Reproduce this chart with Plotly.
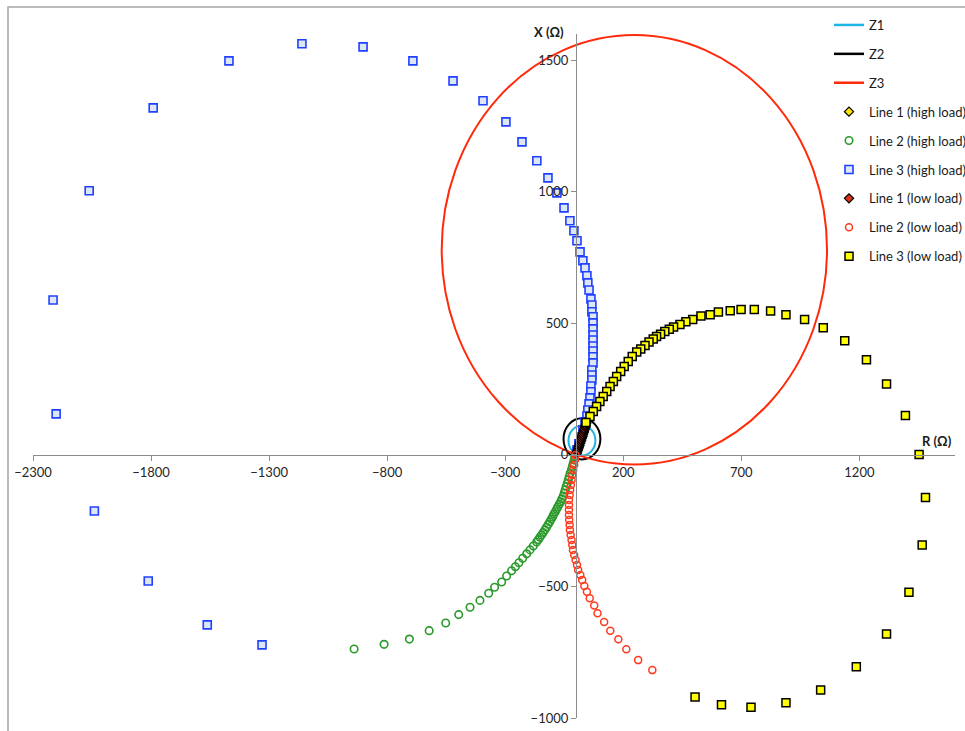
import plotly.graph_objects as go

# ---- Relay characteristics (mho circles): centre R, centre X, radius (ohm) ----
zone_names = ["Z1", "Z2", "Z3"]
zone_centre_r = [25, 25, 247]
zone_centre_x = [55, 61, 780]
zone_radius = [57, 78, 816]
zone_colors = ["#1eb4e6", "#000000", "#ff2a0a"]

# ---- Apparent impedance trajectories (R, X in ohm) ----
line1_high_r = [2, 4, 7, 9, 12, 14, 17, 19, 22, 24, 27, 29, 32, 34, 37, 39]
line1_high_x = [5, 11, 18, 24, 31, 37, 44, 50, 57, 64, 70, 77, 84, 91, 98, 105]

line2_high_r = [-940, -813, -706, -622, -552, -497, -449, -407, -370, -345, -315,
                -294, -273, -257, -242, -226, -209, -195, -181, -167, -160, -153,
                -146, -139, -132, -125, -118, -111, -105, -99, -94, -88, -82, -77,
                -71, -65, -60, -54, -50, -46, -42, -37, -33, -29, -25, -20, -16,
                -12, -8, -5]
line2_high_x = [-738, -720, -700, -668, -639, -607, -579, -553, -526, -503, -483,
                -460, -440, -425, -410, -393, -376, -361, -346, -331, -322, -313,
                -304, -295, -285, -275, -264, -254, -244, -235, -225, -216, -206,
                -197, -187, -178, -167, -156, -145, -133, -120, -108, -95, -83,
                -70, -57, -44, -32, -19, -7]

line3_high_r = [-1330, -1562, -1812, -2040, -2202, -2215, -2062, -1791, -1470,
                -1161, -902, -691, -521, -394, -297, -229, -166, -119, -81, -51,
                -26, -9, 4, 17, 29, 38, 46, 50, 55, 63, 67, 67, 72, 72, 72, 72,
                72, 72, 72, 72, 72, 67, 67, 67, 63, 63, 59, 55, 50, 46, 38, 29,
                21, 12, 4]
line3_high_x = [-722, -646, -479, -213, 156, 589, 1004, 1319, 1498, 1563, 1551,
                1498, 1422, 1346, 1266, 1190, 1118, 1053, 996, 939, 890, 852, 814,
                772, 738, 711, 681, 654, 627, 593, 570, 544, 525, 502, 479, 456,
                437, 414, 395, 373, 350, 323, 304, 285, 262, 240, 217, 194, 171,
                148, 126, 95, 68, 42, 19]

line1_low_r = [3, 5, 8, 10, 13, 15, 18, 20, 23, 25, 28, 30, 33, 35, 38, 40, 43, 45]
line1_low_x = [8, 15, 22, 29, 36, 43, 50, 57, 64, 71, 78, 85, 92, 99, 106, 113, 120, 127]

line2_low_r = [323, 263, 213, 179, 145, 119, 91, 77, 58, 46, 35, 26, 18, 9, 4,
               -2, -8, -13, -16, -19, -23, -26, -27, -29, -30, -30, -30, -30,
               -27, -25, -22, -19, -16, -12, -8, -5, -2]
line2_low_x = [-818, -780, -739, -701, -668, -635, -602, -572, -545, -520, -498,
               -475, -456, -437, -418, -399, -380, -361, -342, -323, -304, -285,
               -266, -247, -228, -209, -190, -171, -152, -133, -114, -95, -76,
               -57, -38, -19, 0]

line3_low_r = [504, 616, 741, 889, 1036, 1187, 1315, 1410, 1466, 1480, 1453,
               1395, 1315, 1230, 1138, 1047, 968, 889, 824, 755, 699, 653, 603,
               568, 529, 494, 465, 440, 413, 395, 376, 358, 341, 327, 309, 292,
               274, 257, 238, 221, 204, 189, 172, 158, 144, 130, 115, 101, 87,
               73, 59, 42]
line3_low_x = [-920, -950, -959, -942, -894, -805, -681, -522, -342, -162, 2,
               150, 270, 362, 434, 483, 515, 533, 547, 553, 553, 548, 543, 533,
               528, 515, 506, 496, 486, 478, 469, 459, 450, 441, 429, 416, 403,
               391, 374, 355, 336, 317, 298, 279, 260, 241, 222, 203, 184, 165,
               146, 123]

# ---- Axis ticks ----
r_ticks = [-2300, -1800, -1300, -800, -300, 200, 700, 1200]
x_ticks = [-1000, -500, 0, 500, 1000, 1500]
r_range = [-2300, 1605]
x_range = [-1000, 1600]

FONT = "Lato"

fig = go.Figure()

# characteristic circles as shapes, legend entries as line traces
for name, cr, cx, rad, col in zip(zone_names, zone_centre_r, zone_centre_x,
                                  zone_radius, zone_colors):
    fig.add_shape(type="circle", xref="x", yref="y",
                  x0=cr - rad, x1=cr + rad, y0=cx - rad, y1=cx + rad,
                  line=dict(color=col, width=2), layer="below")
    fig.add_trace(go.Scatter(x=[None], y=[None], mode="lines", name=name,
                             line=dict(color=col, width=2.5),
                             legendgroup=name))


def add_markers(name, r, x, symbol, size, fill, edge, width):
    fig.add_trace(go.Scatter(
        x=r, y=x, mode="markers", name=name, legendgroup=name,
        marker=dict(symbol=symbol, size=size, color=fill,
                    line=dict(color=edge, width=width)),
        cliponaxis=False))


add_markers("Line 1 (high load)", line1_high_r, line1_high_x, "diamond", 7,
            "#ffe600", "#000000", 1.3)
add_markers("Line 2 (high load)", line2_high_r, line2_high_x, "circle-open", 7.5,
            "#2a9a2a", "#2a9a2a", 1.6)
add_markers("Line 3 (high load)", line3_high_r, line3_high_x, "square", 8,
            "#dde6f4", "#1f40ff", 1.6)
add_markers("Line 1 (low load)", line1_low_r, line1_low_x, "diamond", 7,
            "#e03218", "#000000", 1.3)
add_markers("Line 2 (low load)", line2_low_r, line2_low_x, "circle-open", 7,
            "#ff3b1f", "#ff3b1f", 1.5)
add_markers("Line 3 (low load)", line3_low_r, line3_low_x, "square", 8,
            "#ffff00", "#000000", 1.5)

W, H = 965, 731
ml, mr, mt, mb = 33, 10, 34, 13
pw, ph = W - ml - mr, H - mt - mb

x_zero = (0 - r_range[0]) / (r_range[1] - r_range[0])
y_zero = (0 - x_range[0]) / (x_range[1] - x_range[0])

axis_common = dict(showgrid=False, zeroline=False, showline=True,
                   linecolor="#8c8c8c", linewidth=1.3, ticks="outside",
                   ticklen=5, tickcolor="#8c8c8c", tickwidth=1.2,
                   tickfont=dict(family=FONT, size=13, color="#262626"),
                   anchor="free", automargin=False)

fig.update_layout(
    width=W, height=H,
    margin=dict(l=ml, r=mr, t=mt, b=mb, pad=0, autoexpand=False),
    paper_bgcolor="white", plot_bgcolor="white",
    xaxis=dict(range=r_range, tickvals=r_ticks, position=y_zero, **axis_common),
    yaxis=dict(range=x_range, tickvals=x_ticks, position=x_zero, **axis_common),
    showlegend=True,
    legend=dict(x=(829 - ml) / pw, xanchor="left",
                y=(H - mb - 10) / ph, yanchor="top",
                bgcolor="rgba(255,255,255,0)",
                font=dict(family=FONT, size=13, color="#1a1a1a"),
                tracegroupgap=9, traceorder="grouped", itemwidth=30),
    annotations=[
        dict(text="<b>X (Ω)</b>", xref="paper", yref="paper",
             x=(549 - ml) / pw, y=(H - mb - 32) / ph, showarrow=False,
             xanchor="center", yanchor="middle",
             font=dict(family=FONT, size=13, color="#1a1a1a")),
        dict(text="<b>R (Ω)</b>", xref="paper", yref="paper",
             x=(937 - ml) / pw, y=(H - mb - 441) / ph, showarrow=False,
             xanchor="center", yanchor="middle",
             font=dict(family=FONT, size=13, color="#1a1a1a")),
    ],
    shapes=list(fig.layout.shapes) + [
        dict(type="rect", xref="paper", yref="paper",
             x0=(8 - ml) / pw, x1=1.2, y0=-0.2, y1=(H - mb - 7) / ph,
             line=dict(color="#a6a6a6", width=1.5), layer="above"),
    ],
)

fig.write_html("out.html")
